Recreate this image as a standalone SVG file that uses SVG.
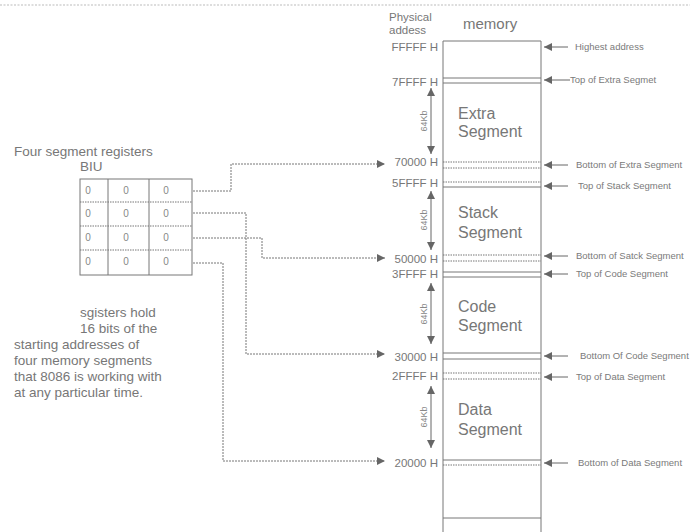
<svg xmlns="http://www.w3.org/2000/svg" width="690" height="532" viewBox="0 0 690 532">
  <defs>
    <marker id="arr" viewBox="0 0 10 10" refX="10" refY="5" markerWidth="12" markerHeight="8" markerUnits="userSpaceOnUse" orient="auto-start-reverse">
      <path d="M0,0 L10,5 L0,10 z" fill="#666"/>
    </marker>
    <marker id="arrw" viewBox="0 0 10 10" refX="10" refY="5" markerWidth="13" markerHeight="8" markerUnits="userSpaceOnUse" orient="auto-start-reverse">
      <path d="M0,0 L10,5 L0,10 z" fill="#666"/>
    </marker>
  </defs>
  <style>
    text { font-family: "Liberation Sans", Arial, sans-serif; fill: #777; }
    .addr { font-size: 11.5px; text-anchor: end; }
    .seg { font-size: 16px; }
    .note { font-size: 9.5px; fill: #7a7a7a; }
    .kb { font-size: 9px; fill: #888; }
    .body { font-size: 13.5px; }
    .cell { font-size: 10px; fill: #888; text-anchor: middle; }
    .ln { stroke: #777; stroke-width: 1; fill: none; }
    .dot { stroke: #777; stroke-width: 1; fill: none; stroke-dasharray: 1.5 1; }
    .wire { stroke: #777; stroke-width: 1; fill: none; stroke-dasharray: 2 1; }
    .ptr { stroke: #666; stroke-width: 1; fill: none; marker-start: url(#arrw); }
    .span { stroke: #666; stroke-width: 1; fill: none; marker-start: url(#arr); marker-end: url(#arr); }
  </style>

  <rect width="690" height="532" fill="#ffffff"/>
  <!-- dotted rule along the top edge -->
  <line x1="0" y1="5" x2="690" y2="5" stroke="#bbb" stroke-width="1" stroke-dasharray="2 1.5"/>

  <!-- memory column -->
  <g id="memory">
    <text x="389" y="21" style="font-size:11.5px">Physical</text>
    <text x="389" y="34" style="font-size:11.5px">addess</text>
    <text x="463" y="29" style="font-size:15px">memory</text>
    <path class="ln" d="M443,532 V41 H541 V532"/>
    <line class="ln" x1="443" y1="518" x2="541" y2="518"/>
  </g>

  <!-- segment boundary lines -->
  <g id="boundaries">
    <line class="ln" x1="443" y1="78" x2="541" y2="78"/>
    <line class="ln" x1="443" y1="83" x2="541" y2="83"/>
    <line class="dot" x1="443" y1="162" x2="541" y2="162"/>
    <line class="dot" x1="443" y1="168" x2="541" y2="168"/>
    <line class="dot" x1="443" y1="182" x2="541" y2="182"/>
    <line class="ln" x1="443" y1="187" x2="541" y2="187"/>
    <line class="dot" x1="443" y1="255" x2="541" y2="255"/>
    <line class="dot" x1="443" y1="261" x2="541" y2="261"/>
    <line class="ln" x1="443" y1="272" x2="541" y2="272"/>
    <line class="ln" x1="443" y1="277" x2="541" y2="277"/>
    <line class="ln" x1="443" y1="353" x2="541" y2="353"/>
    <line class="ln" x1="443" y1="359" x2="541" y2="359"/>
    <line class="dot" x1="443" y1="373" x2="541" y2="373"/>
    <line class="dot" x1="443" y1="379" x2="541" y2="379"/>
    <line class="ln" x1="443" y1="460" x2="541" y2="460"/>
    <line class="dot" x1="443" y1="465" x2="541" y2="465"/>
  </g>

  <!-- physical addresses -->
  <g id="addresses">
    <text class="addr" x="438" y="51">FFFFF H</text>
    <text class="addr" x="438" y="86">7FFFF H</text>
    <text class="addr" x="438" y="166">70000 H</text>
    <text class="addr" x="438" y="187">5FFFF H</text>
    <text class="addr" x="438" y="263">50000 H</text>
    <text class="addr" x="438" y="278">3FFFF H</text>
    <text class="addr" x="438" y="361">30000 H</text>
    <text class="addr" x="438" y="380">2FFFF H</text>
    <text class="addr" x="438" y="467">20000 H</text>
  </g>

  <!-- segments -->
  <g id="extra-segment">
    <text class="seg" x="458" y="119">Extra</text>
    <text class="seg" x="458" y="137">Segment</text>
    <line class="span" x1="431" y1="88" x2="431" y2="154"/>
    <text class="kb" transform="translate(427,121) rotate(-90)" text-anchor="middle">64Kb</text>
  </g>
  <g id="stack-segment">
    <text class="seg" x="458" y="218">Stack</text>
    <text class="seg" x="458" y="238">Segment</text>
    <line class="span" x1="431" y1="191" x2="431" y2="250"/>
    <text class="kb" transform="translate(427,220) rotate(-90)" text-anchor="middle">64Kb</text>
  </g>
  <g id="code-segment">
    <text class="seg" x="458" y="312">Code</text>
    <text class="seg" x="458" y="331">Segment</text>
    <line class="span" x1="431" y1="283" x2="431" y2="344"/>
    <text class="kb" transform="translate(427,314) rotate(-90)" text-anchor="middle">64Kb</text>
  </g>
  <g id="data-segment">
    <text class="seg" x="458" y="415">Data</text>
    <text class="seg" x="458" y="435">Segment</text>
    <line class="span" x1="431" y1="386" x2="431" y2="448"/>
    <text class="kb" transform="translate(427,417) rotate(-90)" text-anchor="middle">64Kb</text>
  </g>

  <!-- boundary notes on the right -->
  <g id="notes">
    <line class="ptr" x1="544" y1="47" x2="568" y2="47"/>
    <text class="note" x="575" y="50">Highest address</text>
    <line class="ptr" x1="544" y1="80" x2="570" y2="80"/>
    <text class="note" x="570" y="83">Top of Extra Segmet</text>
    <line class="ptr" x1="544" y1="165" x2="568" y2="165"/>
    <text class="note" x="576" y="168">Bottom of Extra Segment</text>
    <line class="ptr" x1="544" y1="186" x2="568" y2="186"/>
    <text class="note" x="578" y="189">Top of Stack Segment</text>
    <line class="ptr" x1="544" y1="256" x2="568" y2="256"/>
    <text class="note" x="576" y="259">Bottom of Satck Segment</text>
    <line class="ptr" x1="544" y1="274" x2="568" y2="274"/>
    <text class="note" x="576" y="277">Top of Code Segment</text>
    <line class="ptr" x1="544" y1="356" x2="568" y2="356"/>
    <text class="note" x="580" y="359">Bottom Of Code Segment</text>
    <line class="ptr" x1="544" y1="377" x2="568" y2="377"/>
    <text class="note" x="576" y="380">Top of Data Segment</text>
    <line class="ptr" x1="544" y1="463" x2="568" y2="463"/>
    <text class="note" x="578" y="466">Bottom of Data Segment</text>
  </g>

  <!-- BIU segment registers -->
  <g id="registers">
    <text class="body" x="14" y="156">Four segment registers</text>
    <text class="body" x="80" y="171">BIU</text>
    <rect class="ln" x="80" y="179" width="112" height="96"/>
    <line class="ln" x1="108" y1="179" x2="108" y2="275"/>
    <line class="ln" x1="149" y1="179" x2="149" y2="275"/>
    <line class="dot" x1="80" y1="202" x2="192" y2="202"/>
    <line class="dot" x1="80" y1="226" x2="192" y2="226"/>
    <line class="dot" x1="80" y1="250" x2="192" y2="250"/>
    <text class="cell" x="88" y="194">0</text><text class="cell" x="126" y="194">0</text><text class="cell" x="166" y="194">0</text>
    <text class="cell" x="88" y="217">0</text><text class="cell" x="126" y="217">0</text><text class="cell" x="166" y="217">0</text>
    <text class="cell" x="88" y="241">0</text><text class="cell" x="126" y="241">0</text><text class="cell" x="166" y="241">0</text>
    <text class="cell" x="88" y="265">0</text><text class="cell" x="126" y="265">0</text><text class="cell" x="166" y="265">0</text>
  </g>

  <!-- register description -->
  <g id="description">
    <text class="body" x="80" y="317">sgisters hold</text>
    <text class="body" x="80" y="333">16 bits of the</text>
    <text class="body" x="14" y="349">starting addresses of</text>
    <text class="body" x="14" y="365">four memory segments</text>
    <text class="body" x="14" y="381">that 8086 is working with</text>
    <text class="body" x="14" y="397">at any particular time.</text>
  </g>

  <!-- connectors from registers to segment base addresses -->
  <g id="connectors">
    <path class="wire" d="M193,191 H231 V164 H385" marker-end="url(#arr)"/>
    <path class="wire" d="M193,213 H246 V354 H385" marker-end="url(#arr)"/>
    <path class="wire" d="M193,238 H262 V258 H385" marker-end="url(#arr)"/>
    <path class="wire" d="M193,263 H223 V461 H385" marker-end="url(#arr)"/>
  </g>
</svg>
